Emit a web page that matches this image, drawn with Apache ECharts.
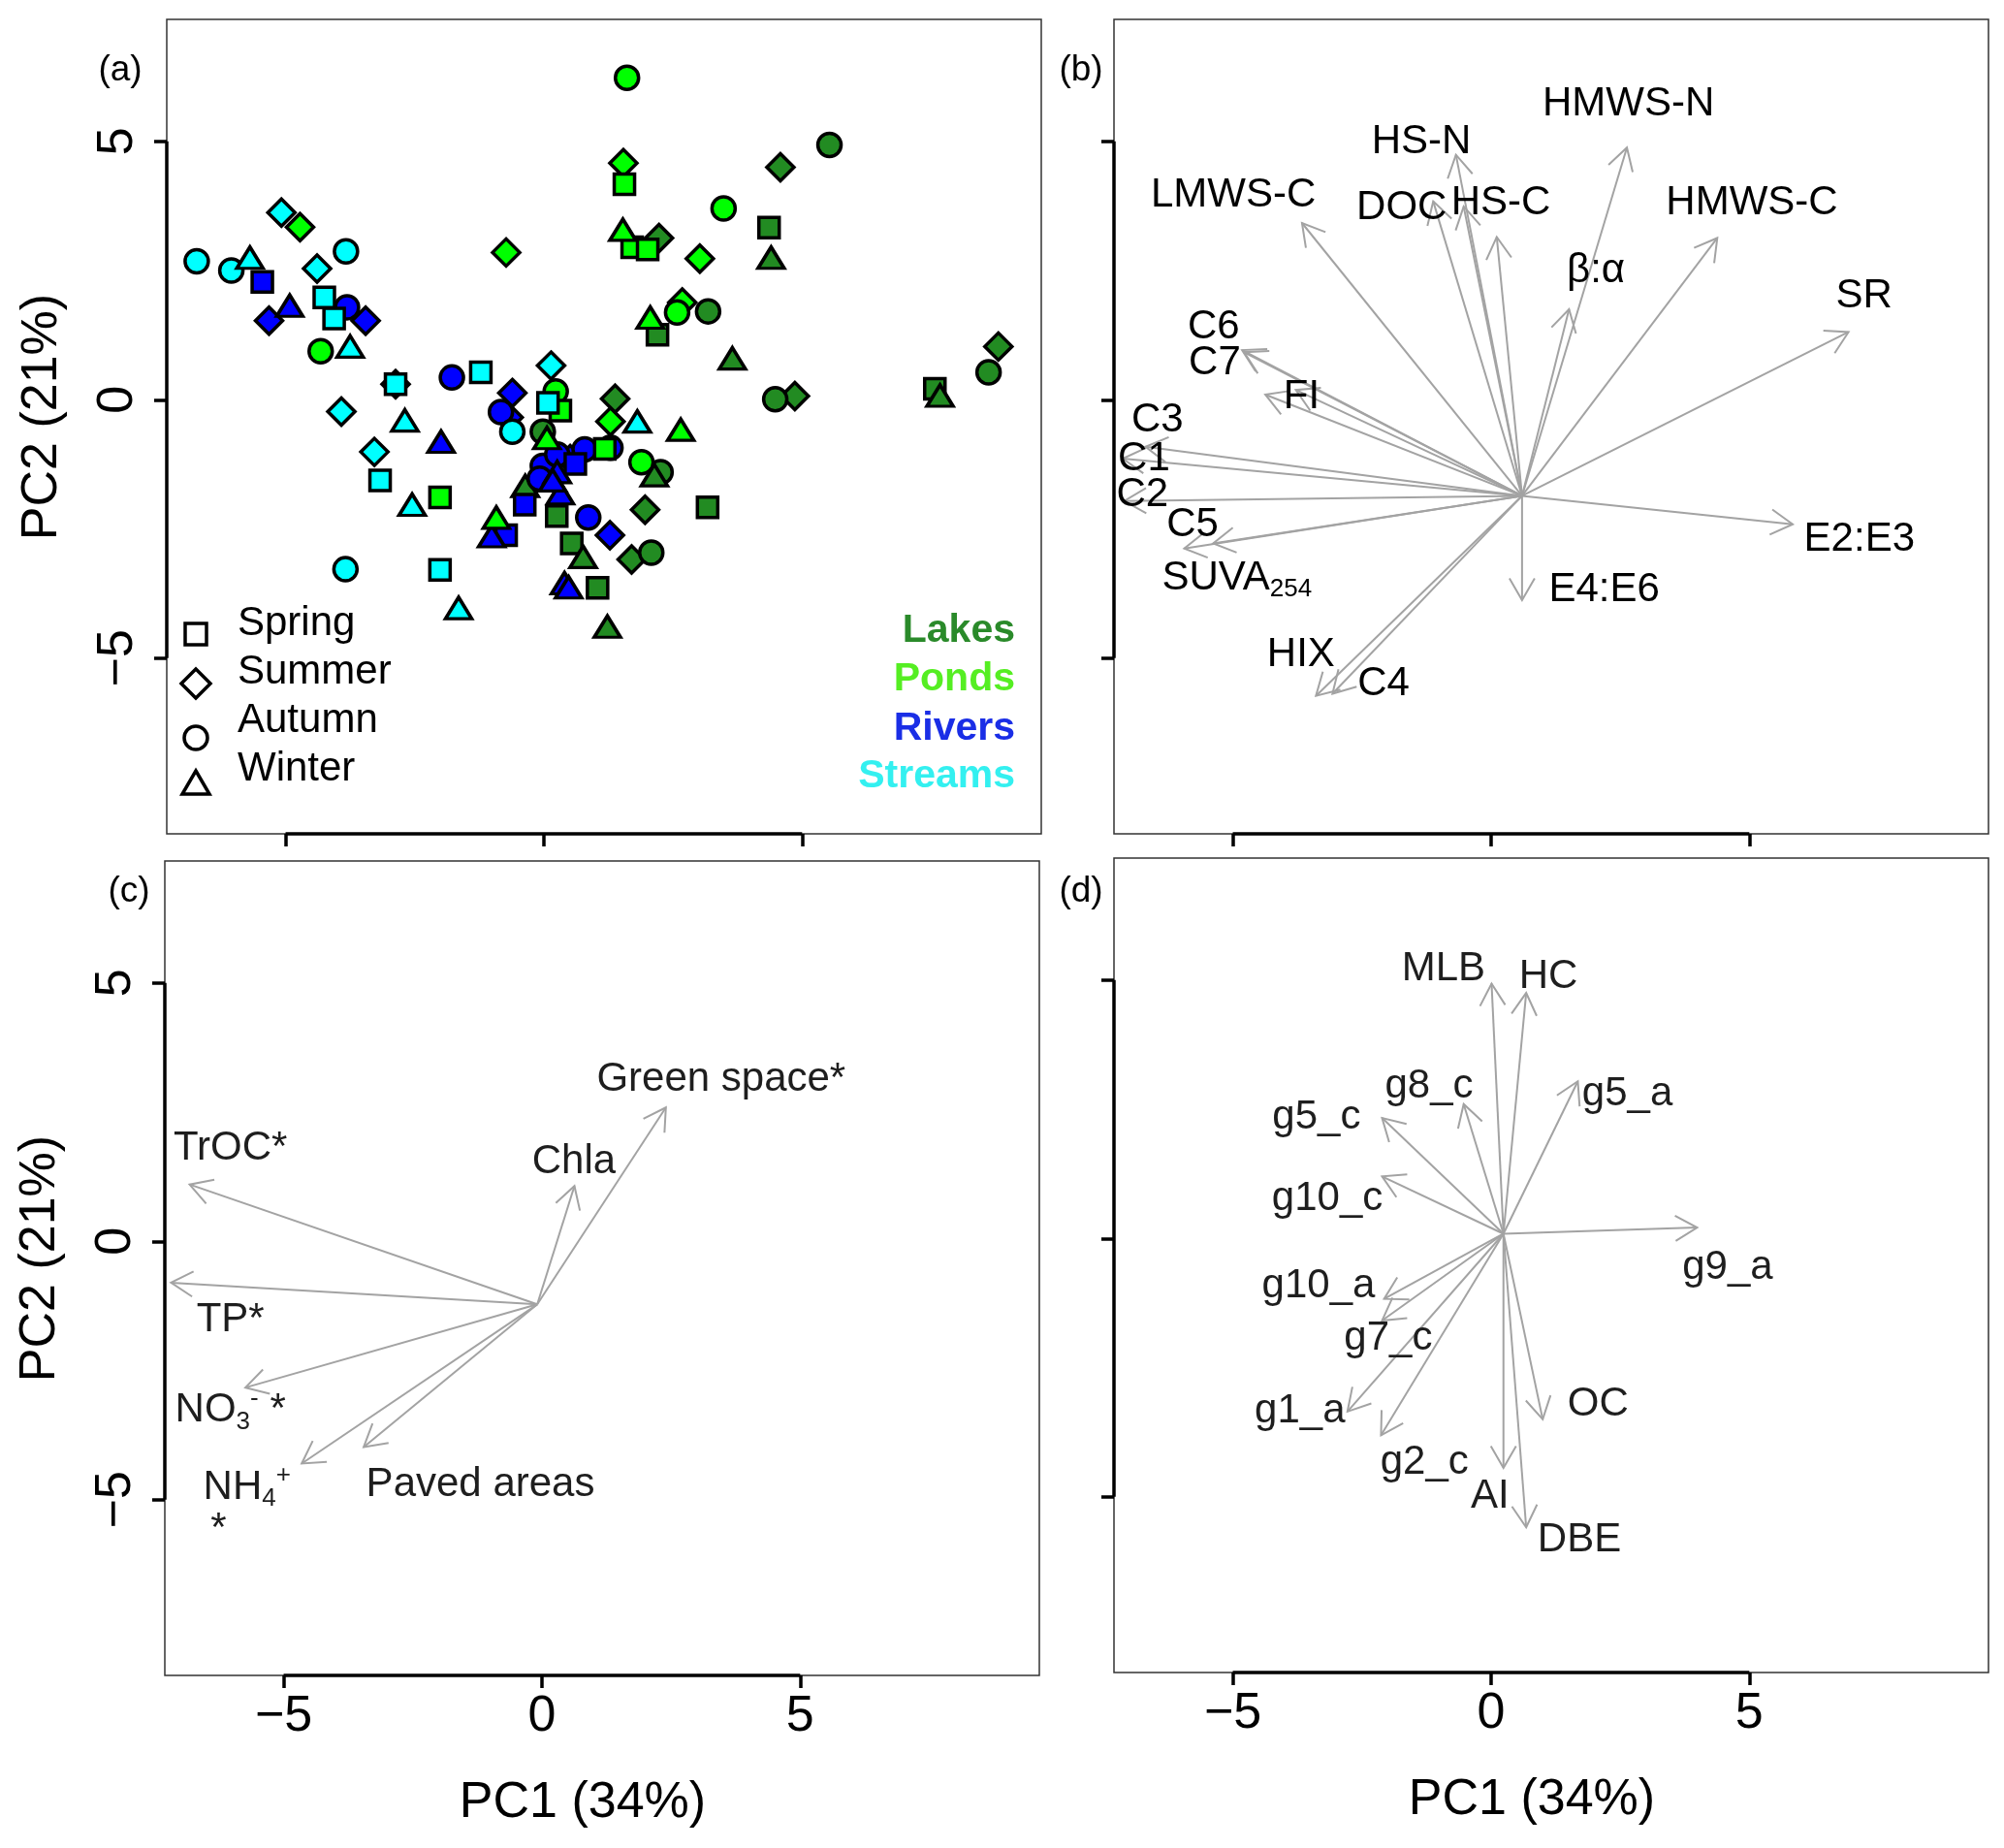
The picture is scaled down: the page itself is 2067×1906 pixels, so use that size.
<!DOCTYPE html>
<html>
<head>
<meta charset="utf-8">
<script src="https://cdn.jsdelivr.net/npm/echarts@6/dist/echarts.min.js"></script>
<style>
html, body { margin: 0; background: #fff; }
#chart { width: 2067px; height: 1906px; }
</style>
</head>
<body>
<div id="chart"></div>
<script>
// ---- panel (a): PCA scores, [PC1, PC2] per site type and season ----
var lakesSpring = [[4.36,3.33],[2.20,1.26],[7.57,0.21],[3.17,-2.08],[0.25,-2.25],[0.54,-2.78],[1.04,-3.64]];
var lakesSummer = [[4.58,4.50],[2.23,3.13],[1.38,0.02],[4.86,0.07],[1.96,-2.13],[1.70,-3.09],[8.80,1.03]];
var lakesAutumn = [[5.53,4.93],[3.18,1.71],[4.48,0.01],[8.61,0.53],[-0.02,-0.62],[2.26,-1.40],[2.08,-2.96]];
var lakesWinter = [[4.40,2.75],[3.65,0.80],[7.67,0.08],[-0.36,-1.67],[2.14,-1.46],[0.76,-3.04],[1.23,-4.39]];

var riversSpring = [[-5.45,2.28],[-0.73,-2.62],[-0.37,-2.03],[0.61,-1.24]];
var riversSummer = [[-5.32,1.53],[-3.45,1.53],[-0.61,0.13],[-0.68,-0.34],[0.51,-1.15],[1.28,-2.62]];
var riversAutumn = [[-3.81,1.79],[-1.78,0.43],[-0.83,-0.24],[0.79,-0.96],[1.29,-0.93],[-0.02,-1.28],[-0.08,-1.53],[0.86,-2.28],[0.26,-1.06]];
var riversWinter = [[-4.92,1.82],[-1.99,-0.81],[-1.01,-2.64],[0.26,-1.40],[0.32,-1.81],[0.17,-1.56],[0.40,-3.55],[0.48,-3.63]];

var pondsSpring = [[1.56,4.17],[1.71,2.95],[2.01,2.91],[-2.01,-1.89],[0.32,-0.21],[1.18,-0.95]];
var pondsSummer = [[1.54,4.58],[-0.73,2.85],[3.02,2.73],[2.68,1.88],[-4.72,3.34],[1.29,-0.42]];
var pondsAutumn = [[1.61,6.23],[3.48,3.70],[2.58,1.69],[-4.32,0.94],[0.23,0.16],[1.89,-1.21]];
var pondsWinter = [[1.53,3.29],[2.06,1.59],[2.65,-0.58],[0.06,-0.74],[-0.92,-2.28]];

var streamsSpring = [[-4.25,1.98],[-4.06,1.57],[-1.22,0.53],[-3.17,-1.56],[-2.01,-3.29],[0.08,-0.06],[-2.87,0.30]];
var streamsSummer = [[-5.08,3.62],[-4.39,2.54],[-2.87,0.30],[-3.92,-0.23],[-3.28,-1.01],[0.14,0.66]];
var streamsAutumn = [[-6.72,2.68],[-6.05,2.50],[-3.83,2.87],[-3.84,-3.28],[-0.61,-0.62]];
var streamsWinter = [[-5.69,2.75],[-3.75,1.03],[-2.69,-0.40],[-2.55,-2.03],[-1.65,-4.03],[1.81,-0.42]];

// ---- panel (b): DOM quality loadings ----
var bOrigin = [0.60, -1.86];
var bTips = [[-3.66,3.42],[-0.68,4.74],[-1.12,3.84],[-0.53,3.74],[0.11,3.15],[2.63,4.88],[1.51,1.75],
  [4.38,3.13],[6.92,1.31],[5.84,-2.41],[0.60,-3.88],[-3.07,-5.69],[-3.39,-5.73],[-5.94,-2.88],
  [-5.38,-2.78],[-7.10,-1.96],[-7.13,-1.14],[-6.69,-0.91],[-4.82,0.96],[-4.78,0.92],[-3.78,0.19],[-4.37,0.10]];
var bLabelText = ['HMWS-N','HS-N','LMWS-C','DOC','HS-C','HMWS-C','β:α','SR','C6','C7','FI','C3','C1','C2','C5',
  'SUVA{sub|254}','E2:E3','E4:E6','HIX','C4'];
var bLabelPos = [[2.66,5.72],[-1.35,4.98],[-4.99,3.96],[-1.73,3.71],[0.19,3.81],[5.05,3.81],[2.03,2.50],[7.22,2.01],
  [-5.37,1.41],[-5.35,0.71],[-3.67,0.05],[-6.46,-0.40],[-6.72,-1.15],[-6.75,-1.84],[-5.78,-2.43],
  [-4.92,-3.45],[7.13,-2.71],[2.19,-3.68],[-3.68,-4.94],[-2.08,-5.50]];

// ---- panel (c): environmental variables ----
var cOrigin = [-0.09, -1.22];
var cTips = [[-6.82,1.10],[-7.18,-0.80],[-5.74,-2.83],[-4.65,-4.30],[-3.45,-3.98],[0.63,1.07],[2.40,2.59]];
var cLabelText = ['Green space*','Chla','TrOC*','TP*','NO{sub|3}{sup|-} *','NH{sub|4}{sup|+}','*','Paved areas'];
var cLabelPos = [[3.47,3.13],[0.62,1.54],[-6.03,1.79],[-6.03,-1.52],[-6.03,-3.27],[-5.71,-4.76],[-6.26,-5.57],[-1.19,-4.72]];

// ---- panel (d): molecular groups ----
var dOrigin = [0.24, 0.09];
var dTips = [[0.01,4.93],[0.68,4.75],[1.68,3.04],[-0.53,2.60],[-2.11,2.33],[-2.11,1.20],[3.99,0.21],
  [-2.07,-1.17],[-2.11,-1.59],[-2.78,-3.35],[-2.13,-3.81],[0.24,-4.44],[1.00,-3.50],[0.68,-5.59]];
var dLabelText = ['MLB','HC','g5_a','g8_c','g5_c','g10_c','g9_a','g10_a','g7_c','g1_a','g2_c','AI','OC','DBE'];
var dLabelPos = [[-0.92,5.22],[1.11,5.06],[2.64,2.79],[-1.20,2.95],[-3.38,2.35],[-3.17,0.76],[4.58,-0.57],
  [-3.34,-0.92],[-1.99,-1.93],[-3.70,-3.35],[-1.29,-4.33],[-0.02,-4.99],[2.07,-3.22],[1.71,-5.83]];

var tickValues = [-5, 0, 5];
var seasons = ['Spring', 'Summer', 'Autumn', 'Winter'];
var siteNames = ['Lakes', 'Ponds', 'Rivers', 'Streams'];

var FONT = 'Liberation Sans';
var xMin = -7.3, xMax = 9.63, yMin = -8.4, yMax = 7.36;
var grids = [
  { left: 172, top: 20, width: 902, height: 840 },
  { left: 1149, top: 20, width: 902, height: 840 },
  { left: 170, top: 888, width: 902, height: 840 },
  { left: 1149, top: 885, width: 902, height: 840 }
];
var showX = [false, false, true, true];
var showY = [true, false, true, false];

var siteColors = { Lakes: '#228B22', Ponds: '#00FF00', Rivers: '#0000FF', Streams: '#00FFFF' };
var siteText = { Lakes: '#2A8A2A', Ponds: '#55EE22', Rivers: '#1A2EE6', Streams: '#33F0F0' };
var shapes = { Spring: 'rect', Summer: 'diamond', Autumn: 'circle', Winter: 'triangle' };
var sizes = { Spring: 21, Summer: 28, Autumn: 24, Winter: [27, 22] };

function minus(v) { return v < 0 ? '\u2212' + Math.abs(v) : String(v); }

var chart = echarts.init(document.getElementById('chart'));

var xAxes = [], yAxes = [], series = [];
grids.forEach(function (g, i) {
  g.show = true;
  g.borderColor = '#333';
  g.borderWidth = 1.5;
  g.backgroundColor = 'transparent';
  xAxes.push({
    gridIndex: i, type: 'value', min: xMin, max: xMax, position: 'bottom',
    axisLine: { show: false, onZero: false }, splitLine: { show: false },
    axisTick: { show: true, customValues: tickValues, length: 13, lineStyle: { color: '#000', width: 3.5 } },
    axisLabel: { show: showX[i], customValues: tickValues, formatter: minus, fontSize: 52, color: '#000', margin: 17, fontFamily: FONT },
    name: showX[i] ? 'PC1 (34%)' : '', nameLocation: 'middle', nameGap: 106,
    nameTextStyle: { fontSize: 52, color: '#000', fontFamily: FONT, padding: [0, 40, 0, 0] }
  });
  yAxes.push({
    gridIndex: i, type: 'value', min: yMin, max: yMax, position: 'left',
    axisLine: { show: false, onZero: false }, splitLine: { show: false },
    axisTick: { show: true, customValues: tickValues, length: 13, lineStyle: { color: '#000', width: 3.5 } },
    axisLabel: { show: showY[i], customValues: tickValues, formatter: minus, rotate: 90, fontSize: 52, color: '#000', margin: 24, fontFamily: FONT },
    name: showY[i] ? 'PC2 (21%)' : '', nameLocation: 'middle', nameGap: 102, nameRotate: 90,
    nameTextStyle: { fontSize: 52, color: '#000', fontFamily: FONT, padding: [0, 0, 0, 20] }
  });
  // thick axis segments from -5 to 5, like R's axis()
  series.push({
    type: 'line', xAxisIndex: i, yAxisIndex: i, data: [[-5, yMin], [5, yMin]],
    showSymbol: false, clip: false, silent: true, z: 10, lineStyle: { color: '#000', width: 3.5 }
  });
  series.push({
    type: 'line', xAxisIndex: i, yAxisIndex: i, data: [[xMin, -5], [xMin, 5]],
    showSymbol: false, clip: false, silent: true, z: 10, lineStyle: { color: '#000', width: 3.5 }
  });
});

// panel (a) points
var scoreSets = {
  Lakes: [lakesSpring, lakesSummer, lakesAutumn, lakesWinter],
  Rivers: [riversSpring, riversSummer, riversAutumn, riversWinter],
  Ponds: [pondsSpring, pondsSummer, pondsAutumn, pondsWinter],
  Streams: [streamsSpring, streamsSummer, streamsAutumn, streamsWinter]
};
['Lakes', 'Rivers', 'Ponds', 'Streams'].forEach(function (site) {
  [1, 2, 0, 3].forEach(function (k) {
    var s = seasons[k];
    series.push({
      type: 'scatter', name: site + ' ' + s, xAxisIndex: 0, yAxisIndex: 0,
      data: scoreSets[site][k], symbol: shapes[s], symbolSize: sizes[s],
      itemStyle: { color: siteColors[site], borderColor: '#000', borderWidth: 3.5, opacity: 1 },
      z: 3
    });
  });
});

// open-headed arrows
function arrowItem(params, api) {
  var p0 = api.coord([api.value(0), api.value(1)]);
  var p1 = api.coord([api.value(2), api.value(3)]);
  var a = Math.atan2(p1[1] - p0[1], p1[0] - p0[0]);
  var h = 26, w = Math.PI / 6;
  var b1 = [p1[0] - h * Math.cos(a - w), p1[1] - h * Math.sin(a - w)];
  var b2 = [p1[0] - h * Math.cos(a + w), p1[1] - h * Math.sin(a + w)];
  var st = { stroke: '#a3a3a3', lineWidth: 2, fill: null };
  return {
    type: 'group', children: [
      { type: 'line', shape: { x1: p0[0], y1: p0[1], x2: p1[0], y2: p1[1] }, style: st },
      { type: 'polyline', shape: { points: [b1, p1, b2] }, style: st }
    ]
  };
}
function arrowSeries(idx, origin, tips) {
  return {
    type: 'custom', xAxisIndex: idx, yAxisIndex: idx, renderItem: arrowItem, silent: true, z: 2,
    encode: { x: [0, 2], y: [1, 3] },
    data: tips.map(function (t) { return [origin[0], origin[1], t[0], t[1]]; })
  };
}
function labelSeries(idx, texts, pos, color) {
  return {
    type: 'custom', xAxisIndex: idx, yAxisIndex: idx, silent: true, z: 4,
    data: pos,
    renderItem: function (params, api) {
      var p = api.coord([api.value(0), api.value(1)]);
      return {
        type: 'text', x: p[0], y: p[1],
        style: {
          text: texts[params.dataIndex], fill: color, fontSize: 42, fontFamily: FONT,
          lineHeight: 50, align: 'center', verticalAlign: 'middle',
          rich: {
            sub: { fontSize: 26, lineHeight: 20, verticalAlign: 'bottom', fill: color, fontFamily: FONT },
            sup: { fontSize: 26, lineHeight: 20, verticalAlign: 'top', fill: color, fontFamily: FONT }
          }
        }
      };
    }
  };
}
series.push(arrowSeries(1, bOrigin, bTips), labelSeries(1, bLabelText, bLabelPos, '#000'));
series.push(arrowSeries(2, cOrigin, cTips), labelSeries(2, cLabelText, cLabelPos, '#1e1e1e'));
series.push(arrowSeries(3, dOrigin, dTips), labelSeries(3, dLabelText, dLabelPos, '#1e1e1e'));

// legends and panel letters
var graphics = [];
[['(a)', 124, 73], ['(b)', 1115, 73], ['(c)', 133, 920], ['(d)', 1115, 920]].forEach(function (p) {
  graphics.push({ type: 'text', x: p[1], y: p[2], z: 20,
    style: { text: p[0], fontSize: 37, fontFamily: FONT, fill: '#000', align: 'center', verticalAlign: 'middle' } });
});
var legX = 202, legY = [654, 705, 761, 808], legTextY = [643, 693, 743, 793];
var mk = { fill: '#fff', stroke: '#000', lineWidth: 3.5 };
graphics.push({ type: 'rect', z: 20, shape: { x: legX - 11, y: legY[0] - 11, width: 22, height: 22 }, style: mk });
graphics.push({ type: 'polygon', z: 20, shape: { points: [[legX, legY[1] - 15], [legX + 15, legY[1]], [legX, legY[1] + 15], [legX - 15, legY[1]]] }, style: mk });
graphics.push({ type: 'circle', z: 20, shape: { cx: legX, cy: legY[2], r: 12 }, style: mk });
graphics.push({ type: 'polygon', z: 20, shape: { points: [[legX, legY[3] - 13], [legX + 14, legY[3] + 11], [legX - 14, legY[3] + 11]] }, style: mk });
seasons.forEach(function (s, i) {
  graphics.push({ type: 'text', x: 245, y: legTextY[i], z: 20,
    style: { text: s, fontSize: 42, fontFamily: FONT, fill: '#000', align: 'left', verticalAlign: 'middle' } });
});
var siteY = [651, 701, 752, 801];
siteNames.forEach(function (s, i) {
  graphics.push({ type: 'text', x: 1047, y: siteY[i], z: 20,
    style: { text: s, fontSize: 41, fontWeight: 'bold', fontFamily: FONT, fill: siteText[s], align: 'right', verticalAlign: 'middle' } });
});

chart.setOption({
  animation: false,
  textStyle: { fontFamily: FONT },
  grid: grids,
  xAxis: xAxes,
  yAxis: yAxes,
  series: series,
  graphic: graphics
});
</script>
</body>
</html>
